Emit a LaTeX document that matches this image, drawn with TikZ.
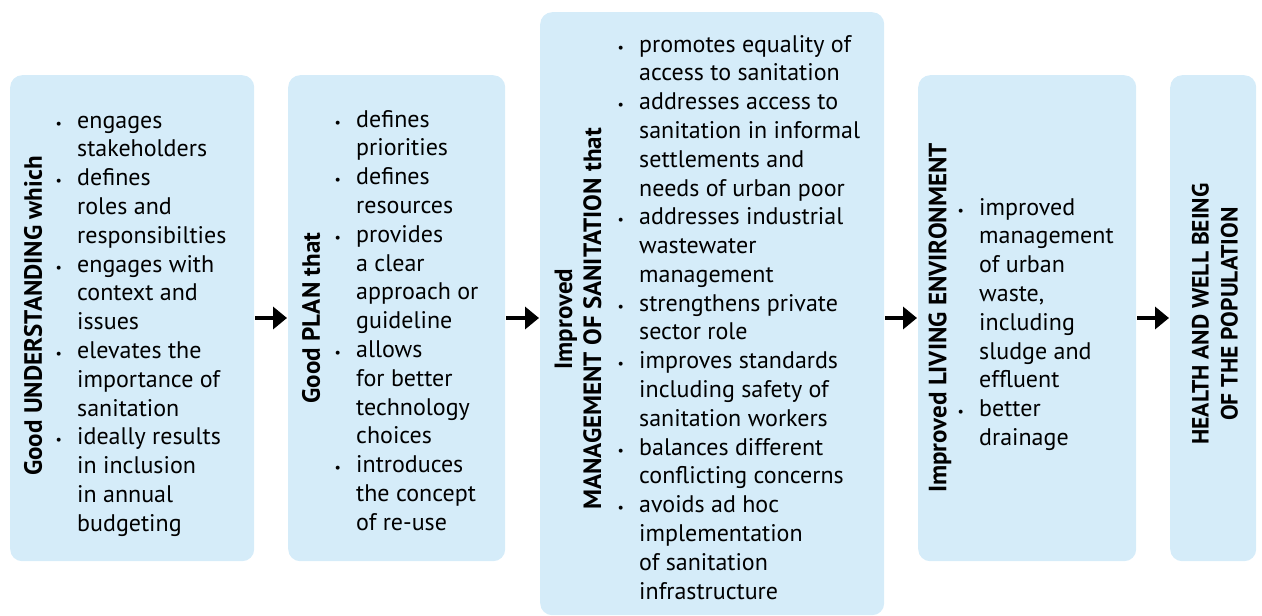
\documentclass[tikz,border=0pt]{standalone}
\usepackage{fontspec}
\setmainfont{PT Sans}
\usetikzlibrary{arrows.meta}
\definecolor{boxblue}{RGB}{213,236,249}
\newcommand\bul{\makebox[21.5pt][l]{\fontsize{14}{14}\selectfont\textbullet}}
\newenvironment{blist}{\fontsize{24}{28.8}\selectfont\begin{tabular}[t]{@{}l@{}l@{}}}{\end{tabular}}
\tikzset{
  box/.style={fill=boxblue, rounded corners=12pt, draw=none, inner sep=0pt, anchor=north west},
  ttl/.style={rotate=90, font=\fontsize{25}{29}\selectfont\bfseries, align=center, inner sep=0pt},
  body/.style={anchor=base west, inner sep=0pt},
  arr/.style={-{Triangle[length=14pt,width=22pt]}, line width=4pt, shorten <=1pt, shorten >=1pt}
}
\begin{document}
\begin{tikzpicture}[x=1pt,y=-1pt]
\useasboundingbox (0,0) rectangle (1262,616);
% boxes
\node[box, minimum width=244pt, minimum height=486pt] (b1) at (10,75) {};
\node[box, minimum width=217pt, minimum height=486pt] (b2) at (288,75) {};
\node[box, minimum width=344pt, minimum height=603pt] (b3) at (540,12) {};
\node[box, minimum width=218pt, minimum height=486pt] (b4) at (918,75) {};
\node[box, minimum width=86pt, minimum height=486pt] (b5) at (1170,75) {};
% titles
\node[ttl] (t1) at (33,316) {Good UNDERSTANDING which};
\node[ttl] (t2) at (311,318) {Good PLAN that};
\node[ttl] (t3) at (578,319) {Improved\\MANAGEMENT OF SANITATION that};
\node[ttl] (t4) at (940,318) {Improved LIVING ENVIRONMENT};
\node[ttl, font=\fontsize{23.5}{29}\selectfont\bfseries] (t5) at (1215,314) {HEALTH AND WELL BEING\\OF THE POPULATION};
% bodies
\node[body] (l1) at (55.5,128) {\begin{blist}
\bul & engages\\
 & stakeholders\\
\bul & defines\\
 & roles and\\
 & responsibilties\\
\bul & engages with\\
 & context and\\
 & issues\\
\bul & elevates the\\
 & importance of\\
 & sanitation\\
\bul & ideally results\\
 & in inclusion\\
 & in annual\\
 & budgeting
\end{blist}};
\node[body] (l2) at (334.5,127) {\begin{blist}
\bul & defines\\
 & priorities\\
\bul & defines\\
 & resources\\
\bul & provides\\
 & a clear\\
 & approach or\\
 & guideline\\
\bul & allows\\
 & for better\\
 & technology\\
 & choices\\
\bul & introduces\\
 & the concept\\
 & of re-use
\end{blist}};
\node[body] (l3) at (617.5,52) {\begin{blist}
\bul & promotes equality of\\
 & access to sanitation\\
\bul & addresses access to\\
 & sanitation in informal\\
 & settlements and\\
 & needs of urban poor\\
\bul & addresses industrial\\
 & wastewater\\
 & management\\
\bul & strengthens private\\
 & sector role\\
\bul & improves standards\\
 & including safety of\\
 & sanitation workers\\
\bul & balances different\\
 & conflicting concerns\\
\bul & avoids ad hoc\\
 & implementation\\
 & of sanitation\\
 & infrastructure
\end{blist}};
\node[body] (l4) at (957.5,215) {\begin{blist}
\bul & improved\\
 & management\\
 & of urban\\
 & waste,\\
 & including\\
 & sludge and\\
 & effluent\\
\bul & better\\
 & drainage
\end{blist}};
% arrows
\draw[arr] (b1.east |- 0,318) -- (b2.west |- 0,318);
\draw[arr] (b2.east |- 0,318) -- (b3.west |- 0,318);
\draw[arr] (b3.east |- 0,318) -- (b4.west |- 0,318);
\draw[arr] (b4.east |- 0,318) -- (b5.west |- 0,318);
\end{tikzpicture}
\end{document}
